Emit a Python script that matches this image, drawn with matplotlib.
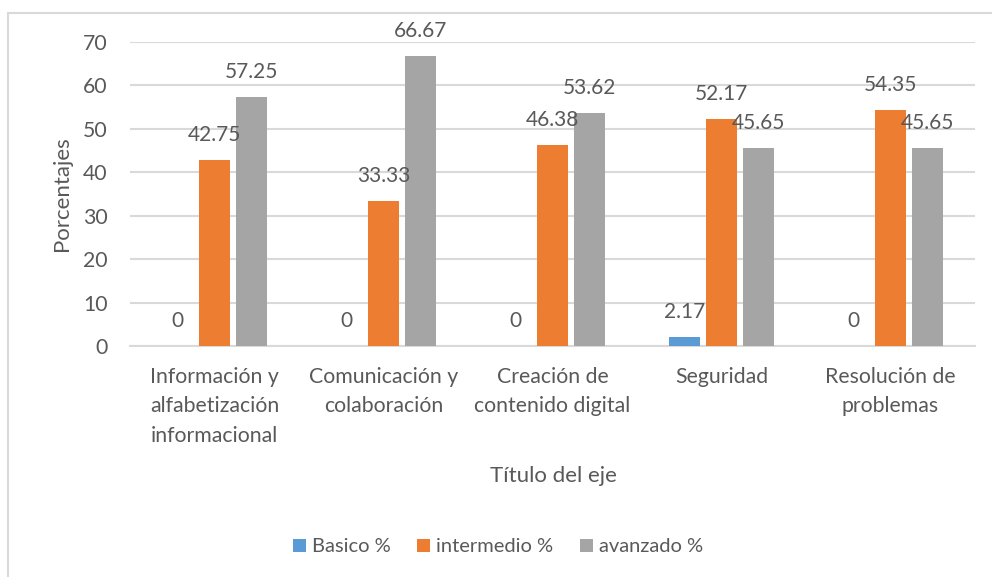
import matplotlib.pyplot as plt
import numpy as np
from matplotlib.patches import Rectangle

plt.rcParams['font.family'] = ['Lato', 'DejaVu Sans']

categories = ["Información y\nalfabetización\ninformacional",
              "Comunicación y\ncolaboración",
              "Creación de\ncontenido digital",
              "Seguridad",
              "Resolución de\nproblemas"]
basico = [0, 0, 0, 2.17, 0]
intermedio = [42.75, 33.33, 46.38, 52.17, 54.35]
avanzado = [57.25, 66.67, 53.62, 45.65, 45.65]
series_names = ["Basico %", "intermedio %", "avanzado %"]
yticks = [0, 10, 20, 30, 40, 50, 60, 70]

COLORS = ["#5B9BD5", "#ED7D31", "#A5A5A5"]
TXT = "#595959"
GRID = "#D9D9D9"
W = 0.178     # bar width
STEP = 0.219  # distance between bar centres

fig = plt.figure(figsize=(9.92, 5.77), dpi=100)
ax = fig.add_axes([130 / 992, 1 - 346 / 577, 845 / 992, 304 / 577])

# chart border (left + top visible, the rest is cropped off)
fig.patches.append(Rectangle((8 / 992, -0.1), 1.2, 1 - 13 / 577 + 0.1,
                             transform=fig.transFigure, fill=False,
                             edgecolor=GRID, linewidth=1.5))

x = np.arange(len(categories))
for i, (vals, name) in enumerate(zip([basico, intermedio, avanzado], series_names)):
    pos = x + (i - 1) * STEP
    ax.bar(pos, vals, W, color=COLORS[i], label=name, zorder=3)
    for px, v in zip(pos, vals):
        lab = "0" if v == 0 else f"{v:.2f}"
        ax.annotate(lab, (px, v), xytext=(0, 18), textcoords="offset points",
                    ha="center", va="center", fontsize=15, color=TXT, zorder=4)

ax.set_xlim(-0.5, len(categories) - 0.5)
ax.set_ylim(0, 70)
ax.set_yticks(yticks)
ax.set_xticks(x)
ax.set_xticklabels(categories, linespacing=1.6)
ax.tick_params(axis="both", length=0, labelsize=15.3, colors=TXT)
ax.tick_params(axis="y", pad=16)
ax.tick_params(axis="x", pad=15)
ax.grid(axis="y", color=GRID, linewidth=1.5, zorder=0)
for s in ["top", "right", "left"]:
    ax.spines[s].set_visible(False)
ax.spines["bottom"].set_color(GRID)
ax.spines["bottom"].set_linewidth(1.5)

ax.set_ylabel("Porcentajes", fontsize=16, color=TXT, labelpad=8)
fig.text(553 / 992, 1 - 476 / 577, "Título del eje", fontsize=16, color=TXT,
         ha="center", va="center")

fig.legend(loc="center", bbox_to_anchor=(498 / 992, 1 - 547 / 577), ncol=3,
           frameon=False, fontsize=14.5, labelcolor=TXT, handlelength=0.65,
           handleheight=0.65, handletextpad=0.3, columnspacing=1.3)

fig.savefig("out.png", dpi=100)
